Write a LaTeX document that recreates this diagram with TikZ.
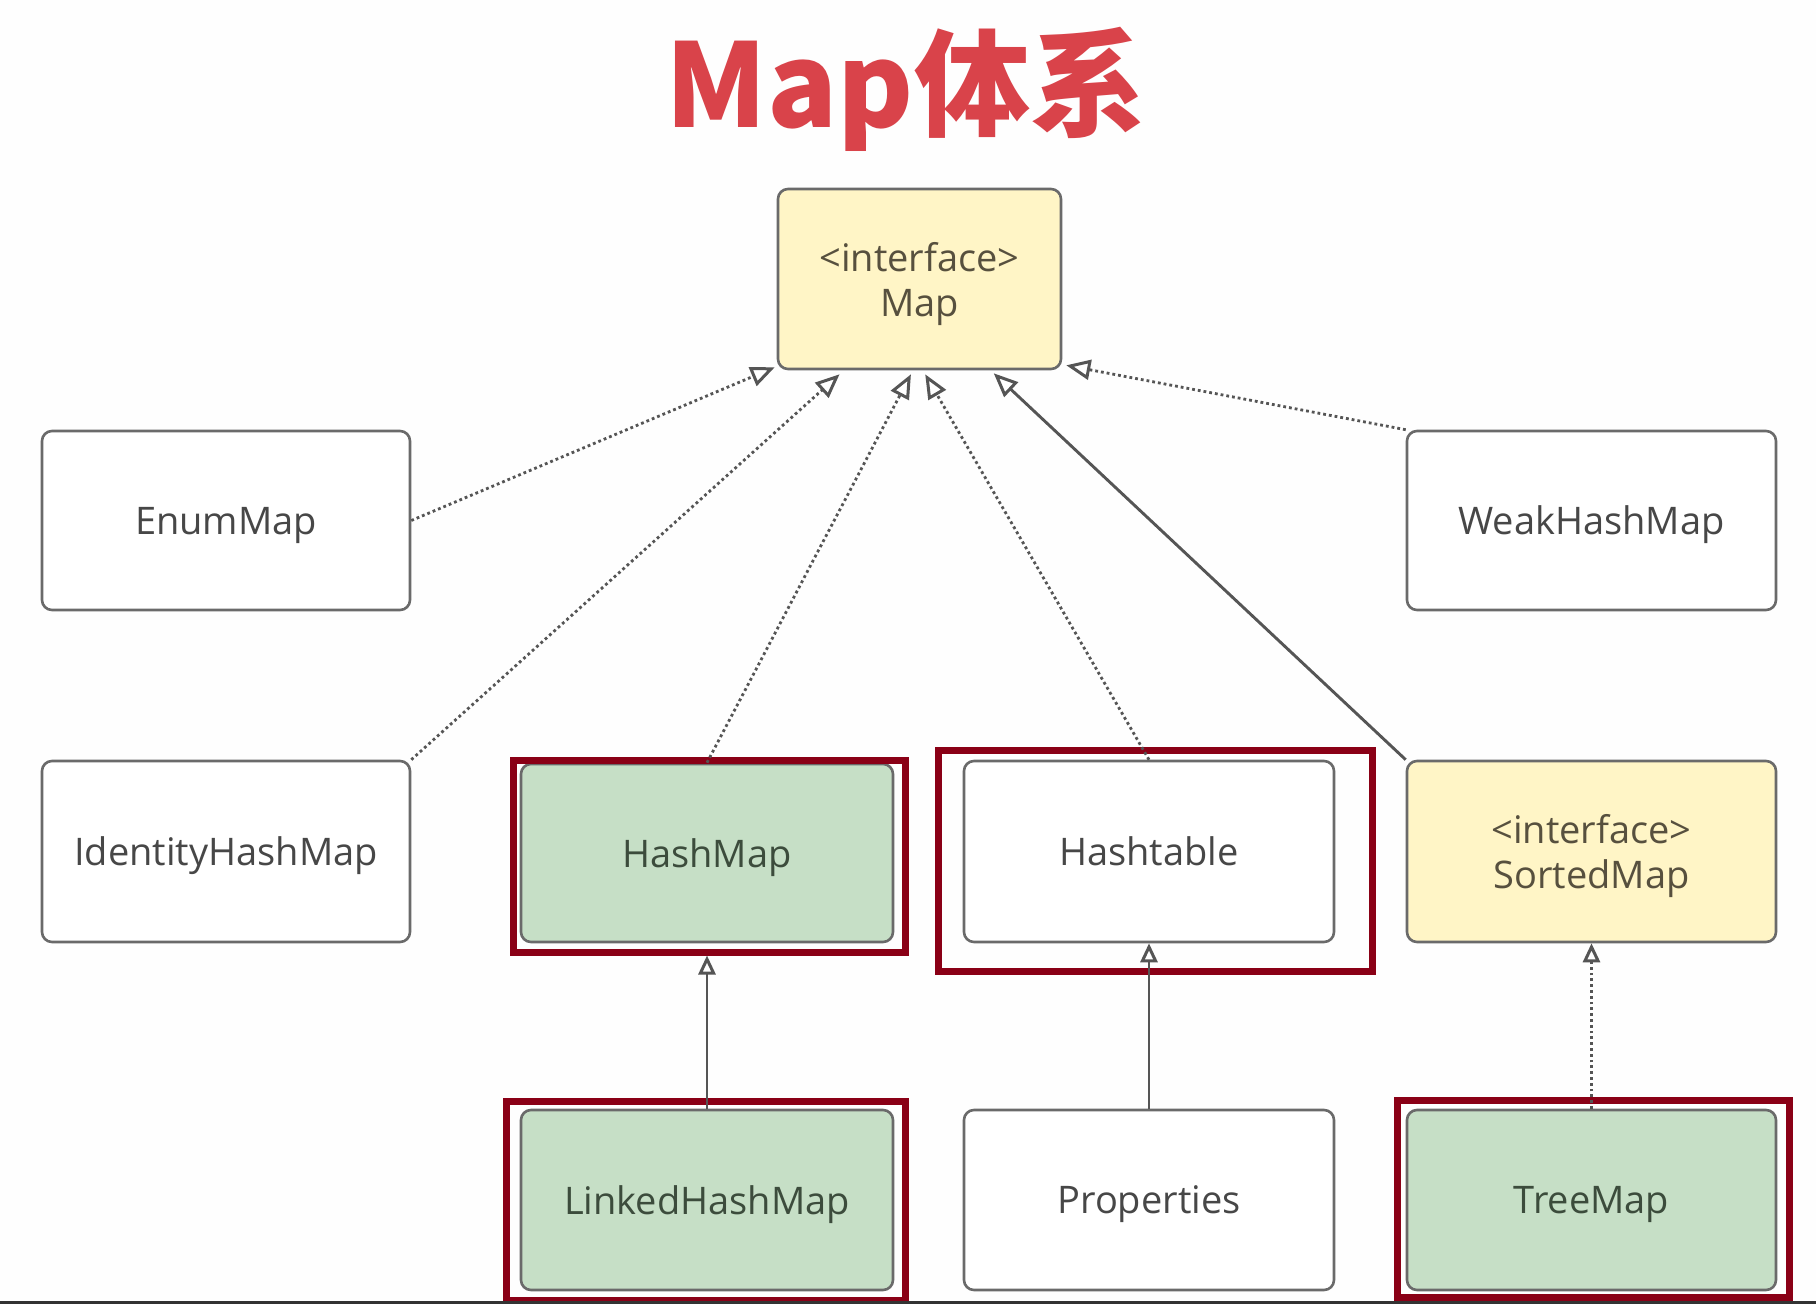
\documentclass[tikz,border=0pt]{standalone}
\usepackage{fontspec}
\setmainfont{Open Sans}
\newfontfamily\cjk{Noto Sans CJK SC}
\usetikzlibrary{arrows.meta,calc}
\definecolor{titlered}{HTML}{D9434A}
\definecolor{framered}{HTML}{8A0016}
\definecolor{greenfill}{HTML}{C6DFC6}
\definecolor{yellowfill}{HTML}{FFF5C6}
\definecolor{boxline}{HTML}{6A6A6A}
\definecolor{linkline}{HTML}{555555}
\definecolor{txtgray}{HTML}{474747}
\definecolor{txtgreen}{HTML}{3C4C3C}
\definecolor{txtyellow}{HTML}{57503E}
\tikzset{
  cls/.style={draw=boxline, line width=2.6pt, rounded corners=10pt, inner sep=0pt,
    align=center, font=\fontsize{38}{45}\selectfont, text=txtgray, fill=white,
    text depth=0pt},
  greenbox/.style={cls, fill=greenfill, text=txtgreen},
  yellowbox/.style={cls, fill=yellowfill, text=txtyellow},
  redframe/.style={draw=framered, line width=7pt, inner sep=0pt},
  tipopen/.style={-{Triangle[open, length=24pt, width=20pt, line width=3pt, fill=white]}},
  tipsmall/.style={-{Triangle[open, length=19pt, width=17pt, line width=3pt, fill=white]}},
  impl/.style={draw=linkline, line width=2.8pt, dash pattern=on 2.8pt off 3pt, tipopen},
  ext/.style={draw=linkline, line width=2.9pt, tipopen},
}
\begin{document}
\begin{tikzpicture}[x=1pt,y=-1pt]
\useasboundingbox (0,0) rectangle (1816,1304);
\fill[white!99.5!black] (0,0) rectangle (1816,1304);

\node[anchor=base, text=titlered, font=\cjk\bfseries\fontsize{116}{120}\selectfont, inner sep=0pt] (title) at (906,127) {Map体系};

% nodes
\node[yellowbox, minimum width=283pt, minimum height=180pt] (map) at (919.5,279) {<interface>\\Map};
\node[cls, minimum width=368pt, minimum height=179pt] (enum) at (226,520.5) {EnumMap};
\node[cls, minimum width=369pt, minimum height=179pt] (weak) at (1591.5,520.5) {WeakHashMap};
\node[cls, minimum width=368pt, minimum height=181pt] (identity) at (226,851.5) {IdentityHashMap};
\node[greenbox, minimum width=372pt, minimum height=178pt] (hashmap) at (707,853) {HashMap};
\node[cls, minimum width=370pt, minimum height=181pt] (hashtable) at (1149,851.5) {Hashtable};
\node[yellowbox, minimum width=369pt, minimum height=181pt] (sorted) at (1591.5,851.5) {<interface>\\SortedMap};
\node[greenbox, minimum width=372pt, minimum height=180pt] (linked) at (707,1200) {LinkedHashMap};
\node[cls, minimum width=370pt, minimum height=180pt] (props) at (1149,1200) {Properties};
\node[greenbox, minimum width=369pt, minimum height=180pt] (tree) at (1591.5,1200) {TreeMap};

% highlight frames
\node[redframe, minimum width=392pt, minimum height=192pt] (fhash) at (709,856) {};
\node[redframe, minimum width=434pt, minimum height=221pt] (ftable) at (1155,860.5) {};
\node[redframe, minimum width=399pt, minimum height=199pt] (flinked) at (705.5,1200.5) {};
\node[redframe, minimum width=392pt, minimum height=197pt] (ftree) at (1593,1198.5) {};

% connectors to Map
\draw[impl] (enum.east) -- ($(map.south west)+(-2,-3)$);
\draw[impl] (identity.north east) -- ($(map.south west)!0.22!(map.south east)+(0,4)$);
\draw[impl] (hashmap.north) -- ($(map.south west)!0.47!(map.south east)+(0,4)$);
\draw[impl] (hashtable.north) -- ($(map.south west)!0.52!(map.south east)+(0,4)$);
\draw[ext] (sorted.north west) -- ($(map.south west)!0.76!(map.south east)+(0,3)$);
\draw[impl] (weak.north west) -- ($(map.south east)+(4,-5)$);

% vertical connectors
\draw[ext, tipsmall] (linked.north) -- (linked.north |- fhash.south);
\draw[ext, tipsmall] (props.north) -- (hashtable.south);
\draw[impl, tipsmall] (tree.north) -- (sorted.south);

\draw[black!80, line width=3pt] (0,1302.5) -- (1816,1302.5);
\end{tikzpicture}
\end{document}
